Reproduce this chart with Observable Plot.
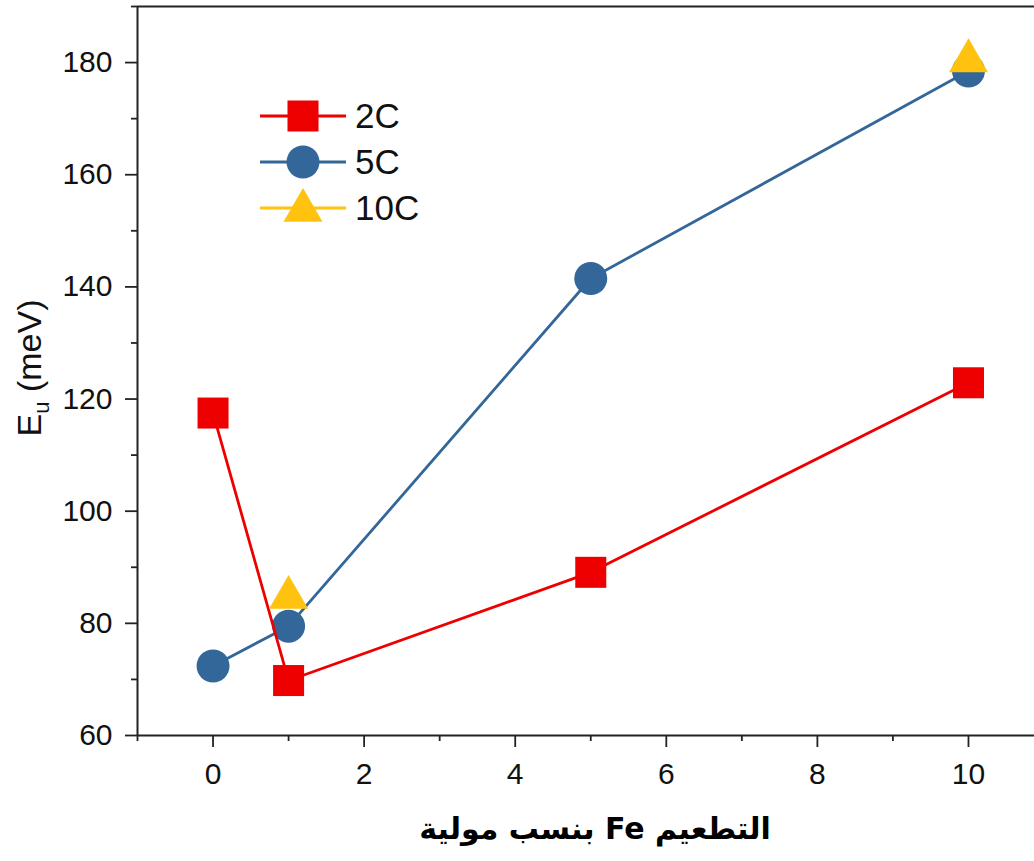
<!DOCTYPE html>
<html>
<head>
<meta charset="utf-8">
<script src="https://cdn.jsdelivr.net/npm/d3@7"></script>
<script src="https://cdn.jsdelivr.net/npm/@observablehq/plot@0.6"></script>
<style>
  html, body { margin: 0; padding: 0; background: white; }
  #chart { position: relative; width: 1034px; height: 861px; }
</style>
</head>
<body>
<div id="chart"></div>
<script>
// ---- data ----
const x2C = [0, 1, 5, 10];
const y2C = [117.5, 69.8, 89.1, 122.9];
const x5C = [0, 1, 5, 10];
const y5C = [72.4, 79.5, 141.5, 178.5];
const x10C = [1, 10];
const y10C = [84.6, 180.3];

const seriesNames = ["2C", "5C", "10C"];
const seriesColors = ["#ee0000", "#336699", "#ffc20e"];

const xMajorTicks = [0, 2, 4, 6, 8, 10];
const xMinorTicks = [-1, 1, 3, 5, 7, 9];
const yMajorTicks = [60, 80, 100, 120, 140, 160, 180];
const yMinorTicks = [70, 90, 110, 130, 150, 170, 190];

const xLabel = "التطعيم Fe بنسب مولية";

const d2C = x2C.map((x, i) => ({x, y: y2C[i]}));
const d5C = x5C.map((x, i) => ({x, y: y5C[i]}));
const d10C = x10C.map((x, i) => ({x, y: y10C[i]}));

const axisColor = "#222";

const chart = Plot.plot({
  width: 1034,
  height: 861,
  marginLeft: 137,
  marginRight: 0,
  marginTop: 6,
  marginBottom: 126,
  x: {domain: [-1, 10.874]},
  y: {domain: [60, 190]},
  style: {fontFamily: "'Liberation Sans', Arial, sans-serif", color: "#111", background: "white"},
  marks: [
    Plot.axisX(xMajorTicks, {tickSize: 12, tickPadding: 15, fontSize: 30, label: null, strokeWidth: 1.8, stroke: axisColor}),
    Plot.axisX(xMinorTicks, {tickSize: 6, text: null, label: null, strokeWidth: 1.8, stroke: axisColor}),
    Plot.axisY(yMajorTicks, {tickSize: 12, tickPadding: 13, fontSize: 30, label: null, strokeWidth: 1.8, stroke: axisColor}),
    Plot.axisY(yMinorTicks, {tickSize: 6, text: null, label: null, strokeWidth: 1.8, stroke: axisColor}),
    Plot.ruleY([60], {stroke: axisColor, strokeWidth: 2}),
    Plot.ruleY([190], {stroke: axisColor, strokeWidth: 2}),
    Plot.ruleX([-1], {stroke: axisColor, strokeWidth: 2}),
    Plot.line(d5C, {x: "x", y: "y", stroke: seriesColors[1], strokeWidth: 2.8}),
    Plot.dot(d5C, {x: "x", y: "y", symbol: "circle", r: 16.5, fill: seriesColors[1], stroke: null}),
    Plot.line(d2C, {x: "x", y: "y", stroke: seriesColors[0], strokeWidth: 2.8}),
    Plot.dot(d2C, {x: "x", y: "y", symbol: "square", r: 17.5, fill: seriesColors[0], stroke: null}),
    Plot.dot(d10C, {x: "x", y: "y", symbol: "triangle", r: 14.5, fill: seriesColors[2], stroke: null})
  ]
});

document.getElementById("chart").appendChild(chart);

const svg = d3.select(chart);

// y axis label with subscript
const yl = svg.append("text")
  .attr("transform", "translate(41,368) rotate(-90)")
  .attr("text-anchor", "middle")
  .attr("font-family", "'Liberation Sans', Arial, sans-serif")
  .attr("font-size", 34)
  .attr("fill", "#111");
yl.append("tspan").text("E");
yl.append("tspan").attr("font-size", 22).attr("dy", 8).text("u");
yl.append("tspan").attr("dy", -8).text(" (meV)");

// x axis label (Arabic, right-to-left)
svg.append("text")
  .attr("x", 595)
  .attr("y", 839)
  .attr("text-anchor", "middle")
  .attr("direction", "rtl")
  .attr("font-family", "'DejaVu Sans', sans-serif")
  .attr("font-weight", "bold")
  .attr("font-size", 30)
  .attr("fill", "#000")
  .text(xLabel);

// legend
const legendRows = [
  {y: 116, textY: 128, sym: d3.symbolSquare, size: Math.PI * 17.5 * 17.5, dy: 0},
  {y: 162, textY: 174, sym: d3.symbolCircle, size: Math.PI * 16.5 * 16.5, dy: 0},
  {y: 208, textY: 220, sym: d3.symbolTriangle, size: Math.PI * 14.5 * 14.5, dy: 2.5}
];
const lg = svg.append("g").attr("text-anchor", "start");
legendRows.forEach((row, i) => {
  lg.append("line")
    .attr("x1", 260).attr("x2", 346)
    .attr("y1", row.y).attr("y2", row.y)
    .attr("stroke", seriesColors[i]).attr("stroke-width", 2.8);
  lg.append("path")
    .attr("d", d3.symbol(row.sym, row.size)())
    .attr("transform", `translate(303,${row.y + row.dy})`)
    .attr("fill", seriesColors[i]);
  lg.append("text")
    .attr("x", 355).attr("y", row.textY)
    .attr("text-anchor", "start")
    .attr("font-family", "'Liberation Sans', Arial, sans-serif")
    .attr("font-size", 35)
    .attr("fill", "#111")
    .text(seriesNames[i]);
});
</script>
</body>
</html>
